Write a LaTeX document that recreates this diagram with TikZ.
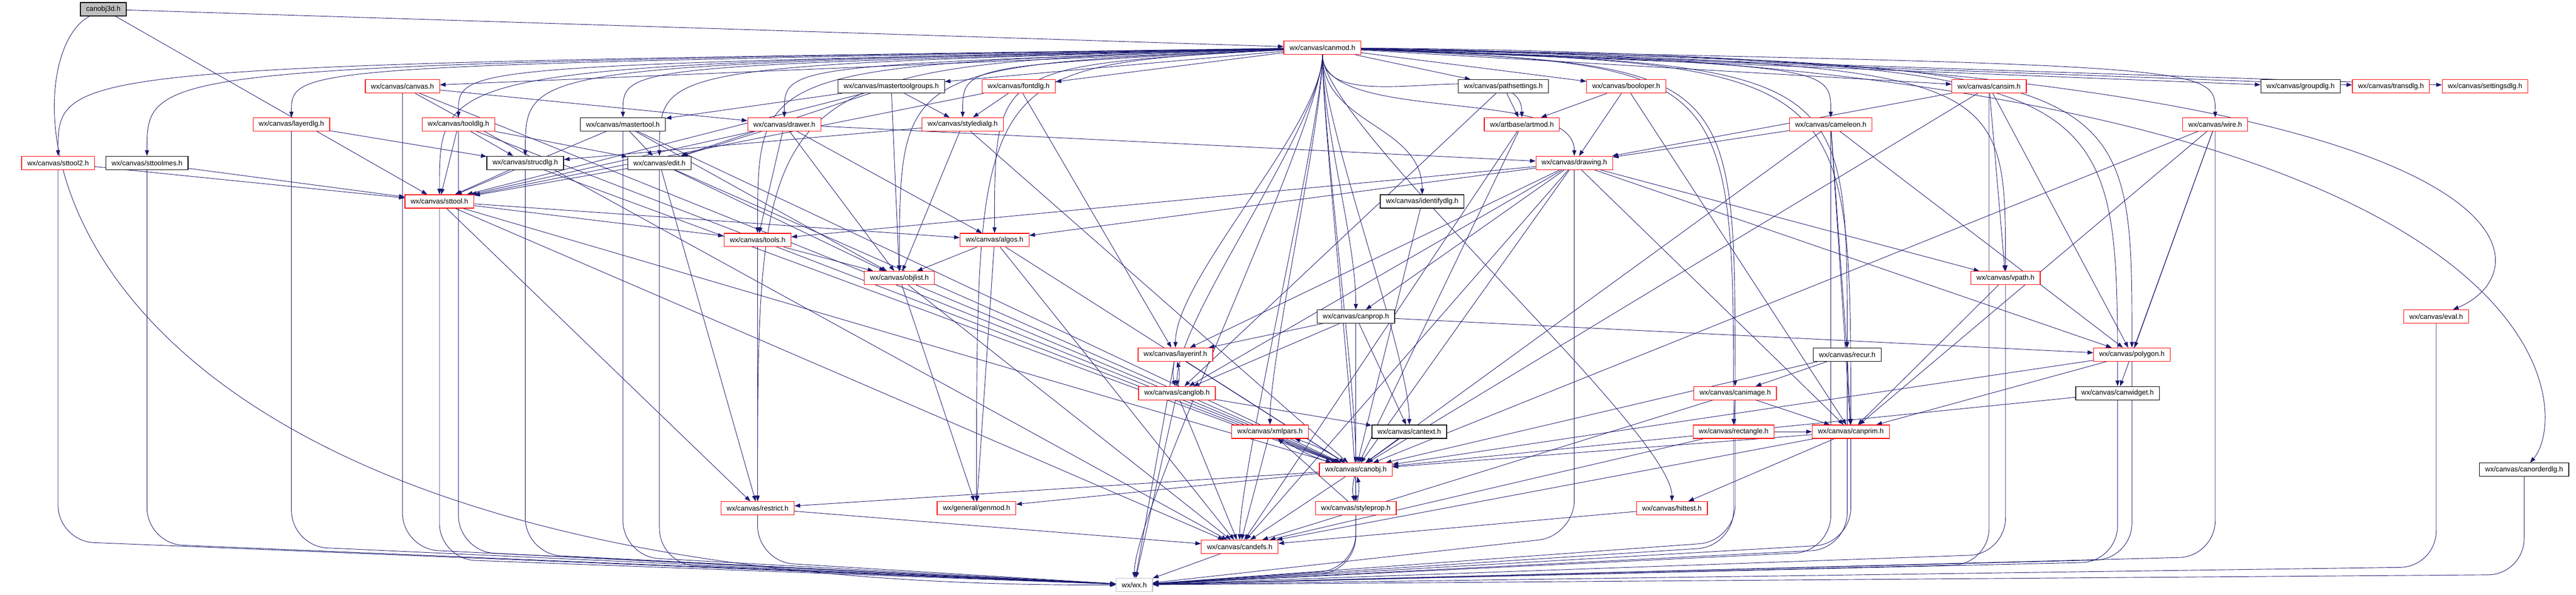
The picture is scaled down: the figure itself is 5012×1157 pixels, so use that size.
\documentclass[tikz,border=0pt]{standalone}
\usepackage{fontspec}
\setmainfont{Liberation Sans}
\usepackage{xcolor}
\definecolor{EdgeBlue}{HTML}{191970}
\definecolor{FrameRed}{HTML}{FF0000}
\definecolor{RootGray}{HTML}{BFBFBF}
\usetikzlibrary{arrows.meta, backgrounds, calc}
\tikzset{
  % Box styles
  filebox/.style={rectangle, draw=black, fill=white, line width=1.8pt, minimum height=13mm, inner xsep=5.5mm, inner ysep=0pt, font=\fontsize{19.5}{23}\selectfont},
  redfile/.style={filebox, draw=FrameRed},
  rootfile/.style={filebox, fill=RootGray},
  sysfile/.style={filebox, draw=RootGray},
  % Arrow styles
  arrow/.style={-{Triangle[length=5.5mm,width=4mm]}, EdgeBlue, line width=1.3pt},
  fanside/.style={arrow, to path={.. controls ($(\tikztotarget |- \tikztostart)+(0,-35)$) .. (\tikztotarget)}},
  fandown/.style={arrow, to path={.. controls +(0,-150) and +(0,150) .. (\tikztotarget)}},
  sink/.style={arrow, rounded corners=35mm, to path={-- ($(\tikztostart |- \tikztotarget)+(0,#1)$) -- (\tikztotarget)}},
  sink/.default=80
}
\begin{document}
\begin{tikzpicture}[x=0.5mm, y=0.5mm]
  \useasboundingbox (0,0) rectangle (5012,-1157);

  % Root and module header
  \node[rootfile] (canobj3d) at (201,-18) {canobj3d.h};
  \node[redfile] (canmod) at (2573,-93) {wx/canvas/canmod.h};

  % Row 2
  \node[redfile] (canvas) at (783,-168) {wx/canvas/canvas.h};
  \node[filebox] (mtgroups) at (1734,-168) {wx/canvas/mastertoolgroups.h};
  \node[redfile] (fontdlg) at (1982,-168) {wx/canvas/fontdlg.h};
  \node[filebox] (pathset) at (2925,-168) {wx/canvas/pathsettings.h};
  \node[redfile] (booloper) at (3164,-168) {wx/canvas/booloper.h};
  \node[redfile] (cansim) at (3870,-168) {wx/canvas/cansim.h};
  \node[filebox] (groupdlg) at (4476,-168) {wx/canvas/groupdlg.h};
  \node[redfile] (transdlg) at (4652,-168) {wx/canvas/transdlg.h};
  \node[redfile] (settingsdlg) at (4835,-168) {wx/canvas/settingsdlg.h};

  % Row 3
  \node[redfile] (layerdlg) at (567,-242) {wx/canvas/layerdlg.h};
  \node[redfile] (tooldlg) at (892,-242) {wx/canvas/tooldlg.h};
  \node[filebox] (mastertool) at (1212,-242) {wx/canvas/mastertool.h};
  \node[redfile] (drawer) at (1526,-242) {wx/canvas/drawer.h};
  \node[redfile] (styledialg) at (1873,-242) {wx/canvas/styledialg.h};
  \node[redfile] (artmod) at (2961,-242) {wx/artbase/artmod.h};
  \node[redfile] (cameleon) at (3562,-242) {wx/canvas/cameleon.h};
  \node[redfile] (wire) at (4310,-242) {wx/canvas/wire.h};

  % Row 4
  \node[redfile] (sttool2) at (113,-317) {wx/canvas/sttool2.h};
  \node[filebox] (sttoolmes) at (286,-317) {wx/canvas/sttoolmes.h};
  \node[filebox] (strucdlg) at (1022,-317) {wx/canvas/strucdlg.h};
  \node[filebox] (edit) at (1283,-317) {wx/canvas/edit.h};
  \node[redfile] (drawing) at (3063,-317) {wx/canvas/drawing.h};

  % Row 5 to 7
  \node[redfile] (sttool) at (855,-392) {wx/canvas/sttool.h};
  \node[filebox] (identifydlg) at (2767,-392) {wx/canvas/identifydlg.h};
  \node[redfile] (tools) at (1474,-467) {wx/canvas/tools.h};
  \node[redfile] (algos) at (1935,-467) {wx/canvas/algos.h};
  \node[redfile] (objlist) at (1750,-541) {wx/canvas/objlist.h};
  \node[redfile] (vpath) at (3902,-541) {wx/canvas/vpath.h};

  % Row 8 to 11
  \node[filebox] (canprop) at (2638,-616) {wx/canvas/canprop.h};
  \node[redfile] (eval) at (4740,-616) {wx/canvas/eval.h};
  \node[redfile] (layerinf) at (2287,-690) {wx/canvas/layerinf.h};
  \node[filebox] (recur) at (3594,-690) {wx/canvas/recur.h};
  \node[redfile] (polygon) at (4148,-690) {wx/canvas/polygon.h};
  \node[redfile] (canglob) at (2290,-765) {wx/canvas/canglob.h};
  \node[redfile] (canimage) at (3376,-765) {wx/canvas/canimage.h};
  \node[filebox] (canwidget) at (4120,-765) {wx/canvas/canwidget.h};
  \node[redfile] (xmlpars) at (2471,-840) {wx/canvas/xmlpars.h};
  \node[filebox] (cantext) at (2742,-840) {wx/canvas/cantext.h};
  \node[redfile] (rectangle) at (3373,-840) {wx/canvas/rectangle.h};
  \node[redfile] (canprim) at (3601,-840) {wx/canvas/canprim.h};

  % Row 12 to 15
  \node[redfile] (canobj) at (2638,-914) {wx/canvas/canobj.h};
  \node[filebox] (canorderdlg) at (4911,-914) {wx/canvas/canorderdlg.h};
  \node[redfile] (restrict) at (1474,-989) {wx/canvas/restrict.h};
  \node[redfile] (genmod) at (1900,-989) {wx/general/genmod.h};
  \node[redfile] (styleprop) at (2638,-989) {wx/canvas/styleprop.h};
  \node[redfile] (hittest) at (3253,-989) {wx/canvas/hittest.h};
  \node[redfile] (candefs) at (2412,-1064) {wx/canvas/candefs.h};
  \node[sysfile] (wx) at (2207,-1138) {wx/wx.h};

  \begin{scope}[on background layer]
    % Root includes
    \draw[arrow] (canobj3d) -- (canmod);
    \draw[arrow] (canobj3d) -- (sttool);
    \draw[arrow] (canobj3d) .. controls (0,-120) and (0,-1150) .. (wx.west);

    % Module fan-out
    \draw[arrow] (canmod) -- (canvas);
    \draw[arrow] (canmod) -- (mtgroups);
    \draw[arrow] (canmod) -- (fontdlg);
    \draw[arrow] (canmod) -- (pathset);
    \draw[arrow] (canmod) -- (booloper);
    \draw[arrow] (canmod) -- (cansim);
    \draw[arrow] (canmod) -- (groupdlg);
    \draw[arrow] (canmod) -- (transdlg);
    \draw[arrow] (canmod) -- (settingsdlg);
    \draw[fanside] (canmod) to (layerdlg);
    \draw[fanside] (canmod) to (tooldlg);
    \draw[fanside] (canmod) to (mastertool);
    \draw[fanside] (canmod) to (drawer);
    \draw[fanside] (canmod) to (styledialg);
    \draw[fanside] (canmod) to (sttool2);
    \draw[fanside] (canmod) to (sttoolmes);
    \draw[fanside] (canmod) to (strucdlg);
    \draw[fanside] (canmod) to (edit);
    \draw[fanside] (canmod) to (sttool);
    \draw[fanside] (canmod) to (tools);
    \draw[fanside] (canmod) to (algos);
    \draw[fanside] (canmod) to (objlist);
    \draw[fanside] (canmod) to (restrict);
    \draw[fanside] (canmod) to (genmod);
    \draw[fandown] (canmod) to (artmod);
    \draw[fandown] (canmod) to (drawing);
    \draw[fandown] (canmod) to (identifydlg);
    \draw[fandown] (canmod) to (canprop);
    \draw[fandown] (canmod) to (layerinf);
    \draw[fandown] (canmod) to (canglob);
    \draw[fandown] (canmod) to (xmlpars);
    \draw[fandown] (canmod) to (cantext);
    \draw[fandown] (canmod) to (canobj);
    \draw[fandown] (canmod) to (styleprop);
    \draw[fandown] (canmod) to (candefs);
    \draw[fandown] (canmod) to (wx);
    \draw[fandown] (canmod) to (hittest);
    \draw[fanside] (canmod) to (cameleon);
    \draw[fanside] (canmod) to (wire);
    \draw[fanside] (canmod) to (vpath);
    \draw[fanside] (canmod) to (recur);
    \draw[fanside] (canmod) to (polygon);
    \draw[fanside] (canmod) to (canimage);
    \draw[fanside] (canmod) to (canwidget);
    \draw[fanside] (canmod) to (rectangle);
    \draw[fanside] (canmod) to (canprim);
    \draw[arrow] (canmod) .. controls (4960,-110) and (4970,-520) .. (eval);
    \draw[arrow] (canmod) .. controls (5008,-120) and (5008,-800) .. (canorderdlg);

    % Dialogs and tools
    \draw[arrow] (canvas) -- (drawer);
    \draw[arrow] (canvas) -- (canobj);
    \draw[arrow] (canvas) -- (candefs);
    \draw[arrow] (layerdlg) -- (strucdlg);
    \draw[arrow] (tooldlg) -- (sttool);
    \draw[arrow] (tooldlg) -- (strucdlg);
    \draw[arrow] (tooldlg) -- (edit);
    \draw[arrow] (tooldlg) -- (canobj);
    \draw[arrow] (mtgroups) -- (mastertool);
    \draw[arrow] (mtgroups) -- (styledialg);
    \draw[arrow] (mtgroups) -- (edit);
    \draw[arrow] (mtgroups) -- (objlist);
    \draw[arrow] (mtgroups) -- (sttool);
    \draw[arrow] (fontdlg) -- (styledialg);
    \draw[arrow] (fontdlg) -- (sttool);
    \draw[arrow] (fontdlg) -- (layerinf);
    \draw[arrow] (mastertool) -- (edit);
    \draw[arrow] (mastertool) -- (sttool);
    \draw[arrow] (mastertool) -- (objlist);
    \draw[arrow] (mastertool) -- (canobj);
    \draw[arrow] (drawer) -- (edit);
    \draw[arrow] (drawer) -- (tools);
    \draw[arrow] (drawer) -- (algos);
    \draw[arrow] (drawer) -- (objlist);
    \draw[arrow] (drawer) -- (drawing);
    \draw[arrow] (drawer) -- (sttool);
    \draw[arrow] (styledialg) -- (strucdlg);
    \draw[arrow] (styledialg) -- (objlist);
    \draw[arrow] (styledialg) -- (canobj);
    \draw[arrow] (sttool2) -- (sttool);
    \draw[arrow] (sttoolmes) -- (sttool);
    \draw[arrow] (strucdlg) -- (sttool);
    \draw[arrow] (strucdlg) -- (canobj);
    \draw[arrow] (edit) -- (sttool);
    \draw[arrow] (edit) -- (objlist);
    \draw[arrow] (edit) -- (canobj);
    \draw[arrow] (edit) -- (restrict);
    \draw[arrow] (sttool) -- (tools);
    \draw[arrow] (sttool) -- (algos);
    \draw[arrow] (sttool) -- (restrict);
    \draw[arrow] (sttool) -- (canobj);
    \draw[arrow] (sttool) -- (candefs);
    \draw[arrow] (tools) -- (objlist);
    \draw[arrow] (tools) -- (restrict);
    \draw[arrow] (algos) -- (objlist);
    \draw[arrow] (algos) -- (genmod);
    \draw[arrow] (algos) -- (canobj);
    \draw[arrow] (algos) -- (candefs);
    \draw[arrow] (objlist) -- (canobj);
    \draw[arrow] (objlist) -- (candefs);
    \draw[arrow] (objlist) -- (genmod);

    % Drawing and objects
    \draw[arrow] (pathset) -- (artmod);
    \draw[arrow] (pathset) -- (canglob);
    \draw[arrow] (booloper) -- (artmod);
    \draw[arrow] (booloper) -- (drawing);
    \draw[arrow] (booloper) -- (canprim);
    \draw[arrow] (artmod) -- (canobj);
    \draw[arrow] (artmod) -- (candefs);
    \draw[arrow] (cameleon) -- (drawing);
    \draw[arrow] (cameleon) -- (polygon);
    \draw[arrow] (cameleon) -- (canprim);
    \draw[arrow] (cameleon) -- (canobj);
    \draw[arrow] (cameleon) -- (recur);
    \draw[arrow] (cansim) -- (drawing);
    \draw[arrow] (cansim) -- (vpath);
    \draw[arrow] (cansim) -- (canobj);
    \draw[arrow] (cansim) -- (polygon);
    \draw[arrow] (drawing) -- (vpath);
    \draw[arrow] (drawing) -- (canprop);
    \draw[arrow] (drawing) -- (canglob);
    \draw[arrow] (drawing) -- (layerinf);
    \draw[arrow] (drawing) -- (canobj);
    \draw[arrow] (drawing) -- (polygon);
    \draw[arrow] (drawing) -- (canprim);
    \draw[arrow] (drawing) -- (algos);
    \draw[arrow] (drawing) -- (tools);
    \draw[arrow] (drawing) -- (candefs);
    \draw[arrow] (identifydlg) -- (canobj);
    \draw[arrow] (vpath) -- (canprim);
    \draw[arrow] (canprop) -- (layerinf);
    \draw[arrow] (canprop) -- (canglob);
    \draw[arrow] (canprop) -- (canobj);
    \draw[arrow] (canprop) -- (cantext);
    \draw[arrow] (canprop) -- (polygon);
    \draw[arrow] (layerinf) to[bend right=12] (canglob);
    \draw[arrow] (canglob) to[bend right=12] (layerinf);
    \draw[arrow] (layerinf) -- (canobj);
    \draw[arrow] (canglob) -- (cantext);
    \draw[arrow] (canglob) -- (candefs);
    \draw[arrow] (xmlpars) to[bend right=8] (canobj);
    \draw[arrow] (canobj) to[bend right=8] (xmlpars);
    \draw[arrow] (xmlpars) -- (candefs);
    \draw[arrow] (cantext) -- (canobj);
    \draw[arrow] (canobj) to[bend right=12] (styleprop);
    \draw[arrow] (styleprop) to[bend right=12] (canobj);
    \draw[arrow] (styleprop) -- (xmlpars);
    \draw[arrow] (canobj) -- (candefs);
    \draw[arrow] (canobj) -- (restrict);
    \draw[arrow] (canobj) -- (genmod);
    \draw[arrow] (recur) -- (canimage);
    \draw[arrow] (recur) -- (canprim);
    \draw[arrow] (recur) -- (canobj);
    \draw[arrow] (canimage) -- (rectangle);
    \draw[arrow] (canimage) -- (canprim);
    \draw[arrow] (canimage) -- (candefs);
    \draw[arrow] (rectangle) -- (canprim);
    \draw[arrow] (rectangle) -- (candefs);
    \draw[arrow] (canprim) -- (hittest);
    \draw[arrow] (canprim) -- (canobj);
    \draw[arrow] (canprim) -- (candefs);
    \draw[arrow] (wire) -- (polygon);
    \draw[arrow] (wire) -- (canwidget);
    \draw[arrow] (wire) -- (canobj);
    \draw[arrow] (wire) -- (canprim);
    \draw[arrow] (polygon) -- (canobj);
    \draw[arrow] (polygon) -- (canprim);
    \draw[arrow] (canwidget) -- (canobj);
    \draw[arrow] (restrict) -- (candefs);
    \draw[arrow] (hittest) -- (candefs);
    \draw[arrow] (candefs) -- (wx);

    % Into wx/wx.h
    \draw[sink=85] (sttool2) to (wx);
    \draw[sink=80] (sttoolmes) to (wx);
    \draw[sink=75] (layerdlg) to (wx);
    \draw[sink=70] (canvas) to (wx);
    \draw[sink=65] (tooldlg) to (wx);
    \draw[sink=60] (strucdlg) to (wx);
    \draw[sink=55] (mastertool) to (wx);
    \draw[sink=50] (sttool) to (wx);
    \draw[sink=45] (tools) to (wx);
    \draw[sink=40] (edit) to (wx);
    \draw[arrow] (layerinf) -- (wx);
    \draw[arrow] (canglob) -- (wx);
    \draw[sink=30] (canobj) to (wx);
    \draw[sink=25] (styleprop) to (wx);
    \draw[sink=95] (drawing) to (wx);
    \draw[sink=60] (vpath) to (wx);
    \draw[sink=70] (recur) to (wx);
    \draw[sink=50] (polygon) to (wx);
    \draw[sink=45] (canwidget) to (wx);
    \draw[sink=55] (wire) to (wx);
    \draw[sink=35] (eval) to (wx);
    \draw[sink=20] (canorderdlg) to (wx);
    \draw[sink=80] (canprim) to (wx);
    \draw[sink=75] (rectangle) to (wx);
    \draw[sink=85] (canimage) to (wx);
    \draw[sink=65] (cameleon) to (wx);
    \draw[sink=40] (cansim) to (wx);
  \end{scope}
\end{tikzpicture}
\end{document}
